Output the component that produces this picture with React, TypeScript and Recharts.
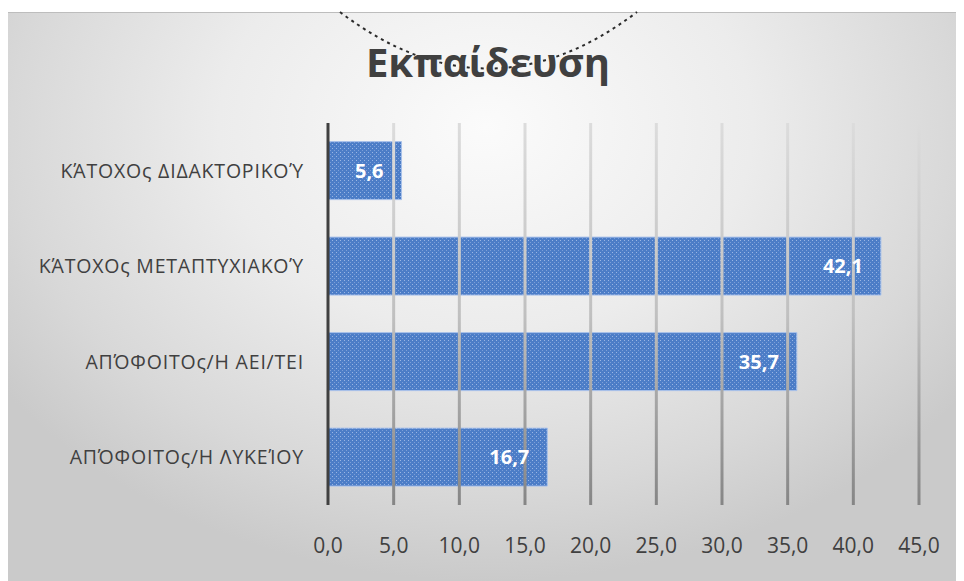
import React from "react";
import { BarChart, Bar, XAxis, YAxis, ReferenceLine, LabelList } from "recharts";

const categories = [
  "ΚΆΤΟΧΟς ΔΙΔΑΚΤΟΡΙΚΟΎ",
  "ΚΆΤΟΧΟς ΜΕΤΑΠΤΥΧΙΑΚΟΎ",
  "ΑΠΌΦΟΙΤΟς/Η ΑΕΙ/ΤΕΙ",
  "ΑΠΌΦΟΙΤΟς/Η ΛΥΚΕΊΟΥ",
];
const values = [5.6, 42.1, 35.7, 16.7];
const xTicks = [0, 5, 10, 15, 20, 25, 30, 35, 40, 45];
const title = "Εκπαίδευση";

const data = categories.map((name, i) => ({ name, value: values[i] }));
const fmt = (v: number) => v.toFixed(1).replace(".", ",");

const FONT = "'Open Sans', 'Noto Sans', sans-serif";

export default function App() {
  return (
    <div style={{ position: "relative", width: 956, height: 573 }}>
      <div
        style={{
          position: "absolute",
          left: 0,
          top: 4,
          width: 956,
          height: 569,
          borderTop: "1px solid #bdbdbd",
          boxSizing: "border-box",
          background:
            "radial-gradient(ellipse 62% 80% at 50% 20%, #fbfbfb 0%, #ececec 45%, #d8d8d8 80%, #cacaca 100%)",
        }}
      />
      <div style={{ position: "absolute", left: 0, top: 4 }}>
        <BarChart
          width={956}
          height={569}
          data={data}
          layout="vertical"
          margin={{ top: 111, right: 45, bottom: 36, left: 20 }}
          barCategoryGap="19.5%"
        >
          <defs>
            <pattern id="dots" width="4" height="4" patternUnits="userSpaceOnUse">
              <rect width="4" height="4" fill="#4c7dc7" />
              <rect x="0" y="0" width="1" height="1" fill="#9ab6e4" />
              <rect x="2" y="2" width="1" height="1" fill="#7c9fd8" />
            </pattern>
            <linearGradient id="gridGrad" x1="0" y1="111" x2="0" y2="494" gradientUnits="userSpaceOnUse">
              <stop offset="0%" stopColor="#dcdcdc" />
              <stop offset="50%" stopColor="#c0c0c0" />
              <stop offset="100%" stopColor="#858585" />
            </linearGradient>
          </defs>
          <XAxis
            type="number"
            domain={[0, 45]}
            ticks={xTicks}
            tickFormatter={fmt}
            axisLine={false}
            tickLine={false}
            tickSize={0}
            tickMargin={33}
            height={40}
            interval={0}
            tick={{ fill: "#404040", fontSize: 21, fontFamily: FONT }}
          />
          <YAxis
            type="category"
            dataKey="name"
            width={300}
            axisLine={false}
            tickLine={false}
            tickSize={0}
            tickMargin={24}
            tick={{ fill: "#404040", fontSize: 19.5, fontFamily: FONT, letterSpacing: 0.8 }}
          />
          <Bar
            dataKey="value"
            fill="url(#dots)"
            stroke="#a9c2ea"
            strokeWidth={1}
            isAnimationActive={false}
          >
            <LabelList
              dataKey="value"
              position="insideRight"
              offset={18}
              formatter={(v: number) => fmt(v)}
              style={{ fill: "#ffffff", fontSize: 20, fontWeight: 700, fontFamily: FONT }}
            />
          </Bar>
          {xTicks.slice(1).map((t) => (
            <ReferenceLine key={t} x={t} stroke="url(#gridGrad)" strokeWidth={3} />
          ))}
          <ReferenceLine x={0} stroke="#404040" strokeWidth={3} />
        </BarChart>
      </div>
      <svg
        style={{ position: "absolute", left: 0, top: 0, pointerEvents: "none" }}
        width={956}
        height={120}
      >
        <path
          d="M 332 4 Q 480 117 629 4"
          fill="none"
          stroke="#2a2a2a"
          strokeWidth={2}
          strokeDasharray="3 4"
        />
        <text
          x={480}
          y={69}
          textAnchor="middle"
          fill="#404040"
          fontSize={40}
          fontWeight={700}
          fontFamily={FONT}
        >
          {title}
        </text>
      </svg>
    </div>
  );
}
